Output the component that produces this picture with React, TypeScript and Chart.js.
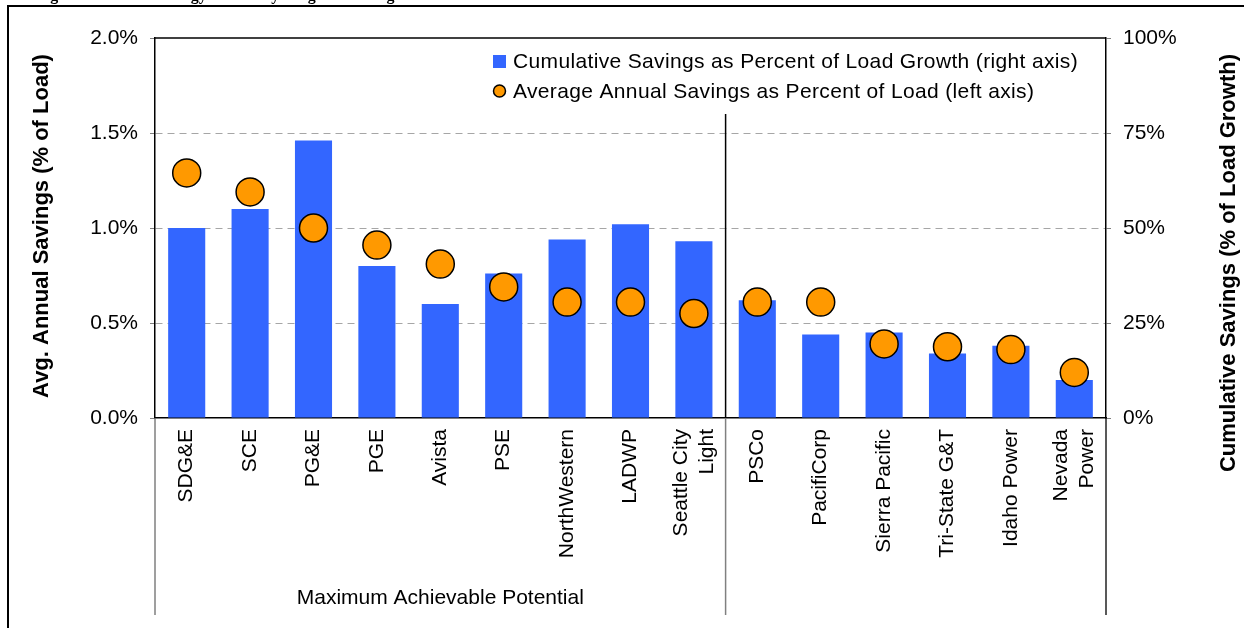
import React, { useEffect, useRef } from 'react';
import { Chart, registerables } from 'chart.js';

Chart.register(...registerables);

// ---- data ----
const categories: (string | string[])[] = [
  'SDG&E', 'SCE', 'PG&E', 'PGE', 'Avista', 'PSE', 'NorthWestern', 'LADWP',
  ['Seattle City', 'Light'], 'PSCo', 'PacifiCorp', 'Sierra Pacific', 'Tri-State G&T',
  'Idaho Power', ['Nevada', 'Power'],
];
// Cumulative savings as % of load growth (right axis)
const cumulativeSavings = [50, 55, 73, 40, 30, 38, 47, 51, 46.5, 31, 22, 22.5, 17, 19, 10];
// Average annual savings as % of load (left axis)
const avgAnnualSavings = [1.29, 1.19, 1.0, 0.91, 0.81, 0.69, 0.61, 0.61, 0.55, 0.61, 0.61, 0.39, 0.375, 0.36, 0.24];
const leftAxisMax = 2.0;
const leftAxisStep = 0.5;
const rightAxisMax = 100;
const rightAxisStep = 25;
const groupLabel = 'Maximum Achievable Potential';
const groupLastIndex = 8; // Seattle City Light closes the group
const separatorTopValue = 1.6; // left-axis value where the in-plot separator starts

const barLegend = 'Cumulative Savings as Percent of Load Growth (right axis)';
const dotLegend = 'Average Annual Savings as Percent of Load (left axis)';
const leftTitle = 'Avg. Annual Savings (% of Load)';
const rightTitle = 'Cumulative Savings (% of Load Growth)';
const figureTitle = 'Figure 4: Annual Energy Efficiency Program Savings in Standardized Terms';

const BLUE = '#3366FF';
const ORANGE = '#FF9900';
const FONT = "'Liberation Sans', Arial, sans-serif";

// centre multi-line rotated category labels on their tick
const centerMultiLinePlugin = {
  id: 'centerMultiLine',
  beforeDraw(chart: any) {
    const xs = chart.scales.x;
    if (!xs) return;
    const items = xs.getLabelItems();
    items.forEach((it: any) => {
      if (Array.isArray(it.label) && it.label.length > 1 && !it.__shifted) {
        const lh = it.font && it.font.lineHeight ? it.font.lineHeight : 25;
        it.textOffset -= (lh * (it.label.length - 1)) / 2;
        it.__shifted = true;
      }
    });
  },
};

const decorPlugin = {
  id: 'decor',
  afterDraw(chart: any) {
    const { ctx, chartArea, scales } = chart;
    const xs = scales.x;
    const ys = scales.y;
    const { left, right, top, bottom } = chartArea;
    ctx.save();

    // outer frame (page box)
    ctx.strokeStyle = '#000';
    ctx.lineWidth = 2;
    ctx.beginPath();
    ctx.moveTo(7, 6);
    ctx.lineTo(1244, 6);
    ctx.moveTo(8, 6);
    ctx.lineTo(8, 628);
    ctx.stroke();

    // cut-off figure title
    ctx.fillStyle = '#000';
    ctx.font = "bold 16px 'Liberation Serif', 'Times New Roman', serif";
    ctx.textBaseline = 'alphabetic';
    ctx.textAlign = 'left';
    ctx.fillText(figureTitle, 36, 0);

    // plot top border
    ctx.lineWidth = 1.5;
    ctx.beginPath();
    ctx.moveTo(left, top);
    ctx.lineTo(right, top);
    ctx.stroke();

    // group separator
    const sepX = (xs.getPixelForValue(groupLastIndex) + xs.getPixelForValue(groupLastIndex + 1)) / 2;
    ctx.lineWidth = 1.5;
    ctx.strokeStyle = '#000';
    ctx.beginPath();
    ctx.moveTo(sepX, ys.getPixelForValue(separatorTopValue));
    ctx.lineTo(sepX, bottom);
    ctx.stroke();

    // category group lines below axis
    const lineBottom = 615;
    ctx.lineWidth = 1.5;
    ctx.strokeStyle = '#808080';
    ctx.beginPath();
    ctx.moveTo(left, bottom);
    ctx.lineTo(left, lineBottom);
    ctx.moveTo(sepX, bottom);
    ctx.lineTo(sepX, lineBottom);
    ctx.stroke();
    ctx.strokeStyle = '#222';
    ctx.beginPath();
    ctx.moveTo(right, bottom);
    ctx.lineTo(right, lineBottom);
    ctx.stroke();

    // group label
    ctx.fillStyle = '#000';
    ctx.font = `21px ${FONT}`;
    ctx.textAlign = 'center';
    ctx.textBaseline = 'middle';
    ctx.fillText(groupLabel, (left + sepX) / 2, 598);

    // axis titles
    ctx.font = `bold 22px ${FONT}`;
    ctx.save();
    ctx.translate(42, 226);
    ctx.rotate(-Math.PI / 2);
    ctx.fillText(leftTitle, 0, 0);
    ctx.restore();
    ctx.save();
    ctx.translate(1229, 263);
    ctx.rotate(-Math.PI / 2);
    ctx.fillText(rightTitle, 0, 0);
    ctx.restore();

    // legend
    ctx.fillStyle = BLUE;
    ctx.fillRect(493, 55, 13, 13);
    ctx.beginPath();
    ctx.arc(499.5, 91, 6, 0, Math.PI * 2);
    ctx.fillStyle = ORANGE;
    ctx.fill();
    ctx.lineWidth = 1.5;
    ctx.strokeStyle = '#000';
    ctx.stroke();
    ctx.fillStyle = '#000';
    ctx.font = `21px ${FONT}`;
    ctx.textAlign = 'left';
    ctx.textBaseline = 'middle';
    try { (ctx as any).letterSpacing = '0.35px'; } catch (e) { /* ignore */ }
    ctx.fillText(barLegend, 513, 62);
    ctx.fillText(dotLegend, 513, 92);
    try { (ctx as any).letterSpacing = '0px'; } catch (e) { /* ignore */ }

    ctx.restore();
  },
};

export default function App() {
  const ref = useRef<HTMLCanvasElement | null>(null);

  useEffect(() => {
    if (!ref.current) return;
    const chart = new Chart(ref.current, {
      type: 'bar',
      data: {
        labels: categories as any,
        datasets: [
          {
            type: 'line',
            label: dotLegend,
            data: avgAnnualSavings,
            yAxisID: 'y',
            showLine: false,
            pointRadius: 14,
            pointHoverRadius: 14,
            pointBackgroundColor: ORANGE,
            pointBorderColor: '#000',
            pointBorderWidth: 1.5,
            backgroundColor: ORANGE,
            borderColor: '#000',
            order: 0,
          } as any,
          {
            type: 'bar',
            label: barLegend,
            data: cumulativeSavings,
            yAxisID: 'y1',
            backgroundColor: BLUE,
            borderWidth: 0,
            barPercentage: 0.585,
            categoryPercentage: 1.0,
            order: 1,
          } as any,
        ],
      },
      options: {
        responsive: false,
        animation: false,
        layout: { padding: { top: 38, left: 0, right: 0, bottom: 0 } },
        plugins: {
          legend: { display: false },
          title: { display: false },
          tooltip: { enabled: false },
        },
        scales: {
          x: {
            offset: true,
            grid: { display: false, drawTicks: false },
            border: { display: true, color: '#000', width: 1.5 },
            ticks: {
              autoSkip: false,
              minRotation: 90,
              maxRotation: 90,
              padding: 11,
              color: '#000',
              font: { family: FONT, size: 21, lineHeight: 1.25 },
            },
            afterFit: (s: any) => { s.height = 210; },
          },
          y: {
            position: 'left',
            min: 0,
            max: leftAxisMax,
            ticks: {
              stepSize: leftAxisStep,
              padding: 12,
              color: '#000',
              font: { family: FONT, size: 21 },
              callback: (v: any) => Number(v).toFixed(1) + '%',
            },
            grid: {
              color: (c: any) => (c.tick && (c.tick.value === 0 || c.tick.value === leftAxisMax) ? 'rgba(0,0,0,0)' : '#A6A6A6'),
              tickColor: '#808080',
              tickLength: 5,
              lineWidth: 1,
            },
            border: { display: true, color: '#000', width: 1.5, dash: [7, 5] },
            afterFit: (s: any) => { s.width = 155; },
          },
          y1: {
            position: 'right',
            min: 0,
            max: rightAxisMax,
            ticks: {
              stepSize: rightAxisStep,
              padding: 12,
              color: '#000',
              font: { family: FONT, size: 21 },
              callback: (v: any) => v + '%',
            },
            grid: { drawOnChartArea: false, tickColor: '#808080', tickLength: 5 },
            border: { display: true, color: '#000', width: 1.5 },
            afterFit: (s: any) => { s.width = 138; },
          },
        },
      },
      plugins: [centerMultiLinePlugin, decorPlugin],
    });
    return () => chart.destroy();
  }, []);

  return (
    <div style={{ position: 'fixed', left: 0, top: 0, width: 1244, height: 628, background: '#fff' }}>
      <canvas ref={ref} width={1244} height={628} style={{ display: 'block' }} />
    </div>
  );
}
